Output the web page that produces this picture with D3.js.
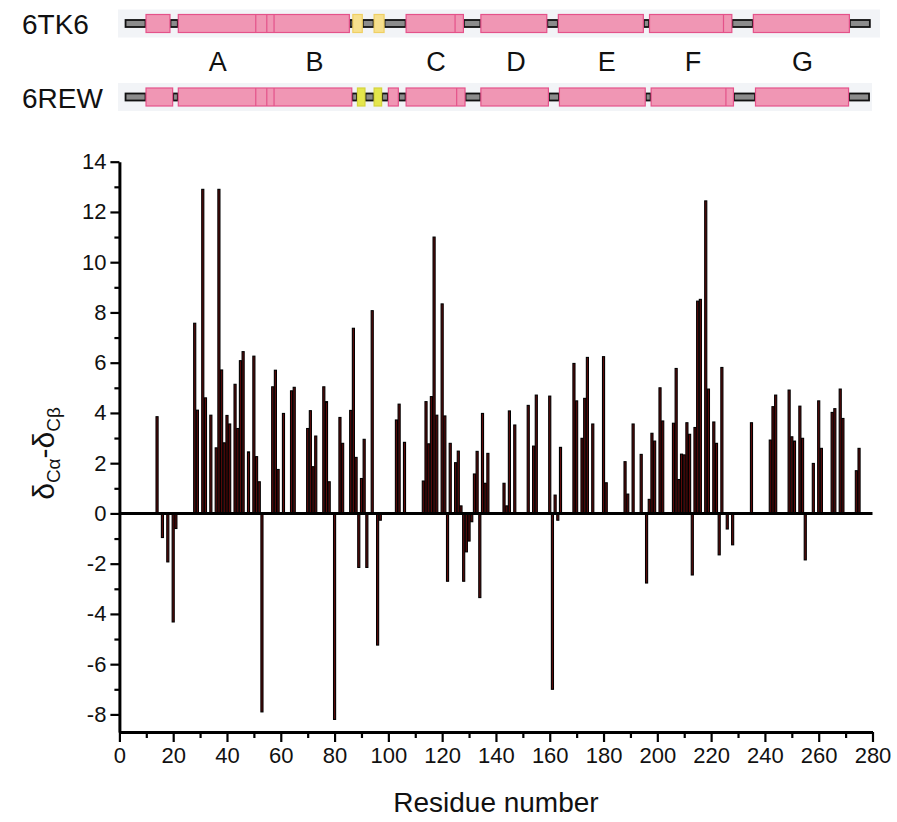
<!DOCTYPE html>
<html>
<head>
<meta charset="utf-8">
<script src="https://cdn.jsdelivr.net/npm/d3@7"></script>
<style>
  html, body { margin: 0; padding: 0; background: #fff; }
  svg { display: block; }
  text { font-family: "Liberation Sans", Arial, sans-serif; fill: #111; }
</style>
</head>
<body>
<svg id="chart" width="897" height="822"></svg>
<script>
// Secondary chemical shift (δCα − δCβ) per residue
const residues = [14,16,18,20,21,28,29,31,32,34,36,37,38,39,40,41,43,44,45,46,48,50,51,52,53,57,58,59,61,64,65,
  70,71,72,73,76,77,78,80,82,83,86,87,88,89,90,91,92,94,96,97,103,104,106,113,114,115,116,117,118,120,121,122,123,
  125,126,127,128,129,130,131,132,133,134,135,136,137,143,144,145,147,152,154,155,160,161,162,163,164,169,170,172,
  173,174,176,180,181,188,189,191,194,196,197,198,199,201,202,206,207,208,209,210,211,212,213,214,215,216,218,219,
  221,222,223,224,226,228,235,242,243,244,249,250,251,253,254,255,258,260,261,265,266,268,269,274,275];
const shifts = [3.85,-0.96,-1.93,-4.32,-0.6,7.57,4.11,12.9,4.6,3.91,2.61,12.9,5.71,2.81,3.9,3.56,5.14,3.38,6.08,6.44,
  2.45,6.26,2.26,1.26,-7.9,5.04,5.7,1.75,3.98,4.88,5.02,
  3.38,4.09,1.86,3.08,5.04,4.45,1.26,-8.2,3.82,2.79,4.1,7.37,2.23,-2.15,1.39,2.95,-2.15,8.07,-5.24,-0.27,3.72,4.35,2.83,
  1.29,4.45,2.77,4.65,11.0,3.91,8.34,3.88,-2.7,2.79,
  2.02,2.48,0.3,-2.7,-1.53,-1.1,-0.33,1.57,2.47,-3.35,3.98,1.2,2.39,1.2,0.3,4.08,3.52,4.3,2.68,4.71,4.67,-7.0,0.73,-0.27,2.63,
  5.97,4.48,2.99,4.58,6.21,3.56,6.24,1.22,2.06,0.77,3.56,2.35,-2.77,0.56,3.19,2.88,5.0,3.68,3.59,5.77,1.35,2.36,2.33,3.61,
  3.15,-2.45,3.42,8.45,8.52,12.44,4.95,3.64,2.79,-1.65,5.81,-0.62,-1.25,3.61,2.92,4.25,4.71,4.91,3.05,2.88,4.27,2.99,-1.85,
  1.99,4.48,2.59,4.02,4.17,4.95,3.78,1.7,2.59];

// Axis ticks
const xMajorTicks = d3.range(0, 281, 20);
const xMinorTicks = d3.range(10, 280, 20);
const yMajorTicks = d3.range(-8, 15, 2);
const yMinorTicks = d3.range(-7, 14, 2);

// Secondary-structure topology (residue ranges) for the two structures
const tk6Span = [2.1, 279.2];
const tk6Helices = [[9.9,18.8],[21.9,85.5],[106.6,127.9],[134.4,158.9],[163.2,194.8],[197.1,227.7],[235.7,271.4]];
const tk6Strands = [[86.8,90.3],[94.7,98.4]];
const tk6Dividers = [50.7,54.8,57.5,124.8,224.6];

const rewSpan = [2.1, 278.9];
const rewHelices = [[9.9,19.8],[21.9,86.4],[100.0,103.7],[106.6,128.5],[134.4,159.5],[163.6,195.5],[197.7,228.3],[236.5,271.1]];
const rewStrands = [[88.5,91.3],[94.7,97.5]];
const rewDividers = [50.7,54.8,57.5,125.4,225.5];

const helixNames = ["A","B","C","D","E","F","G"];
const helixNamePos = [36.6,72.5,117.7,147.5,181.2,213.3,254.0];

const svg = d3.select("#chart");

const x = d3.scaleLinear().domain([0, 280]).range([119.4, 872.5]);
const y = d3.scaleLinear().domain([-8.7, 14]).range([732, 161.7]);

// ---------- topology strips ----------
function drawTopology(cy, span, helices, strands, dividers, strandFill, strandStroke, label, labelY, bandW) {
  const g = svg.append("g");
  g.append("rect").attr("x", 118).attr("y", cy - 14).attr("width", bandW).attr("height", 28)
    .attr("fill", "#f2f4f7");

  // coil segments fill the gaps between structured elements
  const elems = helices.concat(strands).sort((a, b) => a[0] - b[0]);
  const coils = [];
  let start = span[0];
  elems.forEach(e => { if (e[0] > start) coils.push([start, e[0]]); start = Math.max(start, e[1]); });
  if (span[1] > start) coils.push([start, span[1]]);
  g.selectAll(".coil").data(coils).join("rect")
    .attr("x", d => x(d[0]) + 0.5).attr("y", cy - 3.5)
    .attr("width", d => Math.max(0.5, x(d[1]) - x(d[0]) - 1)).attr("height", 7)
    .attr("fill", "#8c8c8c").attr("stroke", "#111").attr("stroke-width", 1.8);

  g.selectAll(".helix").data(helices).join("rect")
    .attr("x", d => x(d[0])).attr("y", cy - 9)
    .attr("width", d => x(d[1]) - x(d[0])).attr("height", 18)
    .attr("fill", "#f096b4").attr("stroke", "#e4528a").attr("stroke-width", 1.2);

  g.selectAll(".div").data(dividers).join("line")
    .attr("x1", d => x(d)).attr("x2", d => x(d)).attr("y1", cy - 9).attr("y2", cy + 9)
    .attr("stroke", "#e4528a").attr("stroke-width", 1.2);

  g.selectAll(".strand").data(strands).join("rect")
    .attr("x", d => x(d[0])).attr("y", cy - 9)
    .attr("width", d => x(d[1]) - x(d[0])).attr("height", 18)
    .attr("fill", strandFill).attr("stroke", strandStroke).attr("stroke-width", 1.2);

  svg.append("text").attr("x", 22).attr("y", labelY).attr("font-size", 28).text(label);
}

drawTopology(23.5, tk6Span, tk6Helices, tk6Strands, tk6Dividers, "#f7e08e", "#efcf63", "6TK6", 34, 762);
drawTopology(97, rewSpan, rewHelices, rewStrands, rewDividers, "#e4e64c", "#d4d23c", "6REW", 108, 754);

svg.append("g").selectAll("text").data(helixNames).join("text")
  .attr("x", (d, i) => x(helixNamePos[i])).attr("y", 71)
  .attr("text-anchor", "middle").attr("font-size", 27).text(d => d);

// ---------- bar chart ----------
const data = residues.map((r, i) => ({ r, v: shifts[i] }));
const bw = x(1) - x(0) - 0.6;

svg.append("g").selectAll("rect").data(data).join("rect")
  .attr("x", d => x(d.r) - bw / 2)
  .attr("y", d => y(Math.max(0, d.v)))
  .attr("width", bw)
  .attr("height", d => Math.abs(y(d.v) - y(0)))
  .attr("fill", "#5e0b0b").attr("stroke", "#000").attr("stroke-width", 1.1);

// zero line
svg.append("line").attr("x1", x(0)).attr("x2", x(280)).attr("y1", y(0)).attr("y2", y(0))
  .attr("stroke", "#000").attr("stroke-width", 3);

// y axis
const plainNum = d => String(d);
svg.append("g").attr("transform", `translate(${x(0)},0)`)
  .call(d3.axisLeft(y).tickValues(yMajorTicks).tickSize(9).tickSizeOuter(0).tickPadding(4).tickFormat(plainNum));
svg.append("g").attr("transform", `translate(${x(0)},0)`)
  .call(d3.axisLeft(y).tickValues(yMinorTicks).tickSize(5).tickSizeOuter(0).tickFormat(""))
  .call(g => g.select(".domain").remove());

// x axis
svg.append("g").attr("transform", `translate(0,${y(-8.7)})`)
  .call(d3.axisBottom(x).tickValues(xMajorTicks).tickSize(10).tickSizeOuter(0).tickPadding(5).tickFormat(plainNum));
svg.append("g").attr("transform", `translate(0,${y(-8.7)})`)
  .call(d3.axisBottom(x).tickValues(xMinorTicks).tickSize(6).tickSizeOuter(0).tickFormat(""))
  .call(g => g.select(".domain").remove());

svg.selectAll(".domain").attr("stroke", "#000").attr("stroke-width", 3);
svg.selectAll(".tick line").attr("stroke", "#000").attr("stroke-width", 2.2);
svg.selectAll(".tick text").attr("font-size", 22).attr("font-family", "Liberation Sans, Arial, sans-serif").attr("fill", "#111");

// axis titles
svg.append("text").attr("x", x(140)).attr("y", 812).attr("text-anchor", "middle")
  .attr("font-size", 28).text("Residue number");

const yt = svg.append("text").attr("transform", `translate(54,${y(0) - 60}) rotate(-90)`)
  .attr("text-anchor", "middle").attr("font-size", 30);
yt.append("tspan").text("δ");
yt.append("tspan").attr("font-size", 19).attr("dy", 6).text("Cα");
yt.append("tspan").attr("dy", -6).text("-δ");
yt.append("tspan").attr("font-size", 19).attr("dy", 6).text("Cβ");
</script>
</body>
</html>
